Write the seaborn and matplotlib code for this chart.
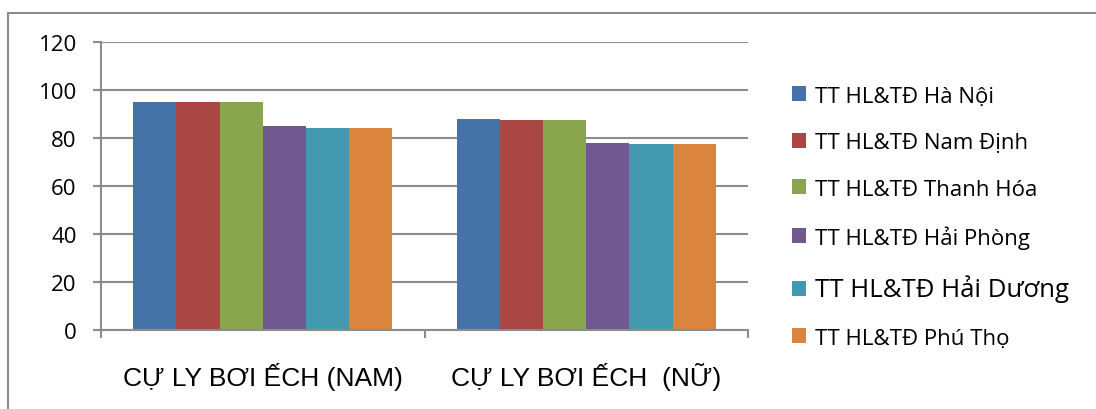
import matplotlib
matplotlib.use("Agg")
import matplotlib.pyplot as plt
import seaborn as sns
import pandas as pd
from matplotlib.patches import Rectangle

categories = ["CỰ LY BƠI ẾCH (NAM)", "CỰ LY BƠI ẾCH  (NỮ)"]
centers = ["TT HL&TĐ Hà Nội", "TT HL&TĐ Nam Định", "TT HL&TĐ Thanh Hóa",
           "TT HL&TĐ Hải Phòng", "TT HL&TĐ Hải Dương", "TT HL&TĐ Phú Thọ"]
nam = [95, 95, 95, 85, 84, 84]
nu = [88, 87.5, 87.5, 78, 77.5, 77.5]
colors = ["#4572A7", "#AA4643", "#89A54E", "#71588F", "#4198AF", "#DB843D"]

rows = []
for c, v in zip(centers, nam):
    rows.append({"cat": categories[0], "center": c, "value": v})
for c, v in zip(centers, nu):
    rows.append({"cat": categories[1], "center": c, "value": v})
df = pd.DataFrame(rows)

sns.set_theme(style="white")
plt.rcParams['font.family'] = ['Open Sans', 'DejaVu Sans']

fig = plt.figure(figsize=(10.96, 4.10), dpi=100)
ax = fig.add_axes([101/1096, 1 - 331/410, (748-101)/1096, (331-43)/410])

sns.barplot(data=df, x="cat", y="value", hue="center", hue_order=centers,
            palette=colors, ax=ax, width=0.8, saturation=1, dodge=True,
            edgecolor="none", linewidth=0, legend=True)

ax.set_ylim(0, 120)
ax.set_xlim(-0.5, 1.5)
ax.set_yticks(range(0, 121, 20))
ax.yaxis.grid(True, color="#8c8c8c", linewidth=1.5)
ax.set_axisbelow(True)
ax.set_xlabel("")
ax.set_ylabel("")
for s in ["top", "right"]:
    ax.spines[s].set_visible(False)
for s in ["left", "bottom"]:
    ax.spines[s].set_color("#8c8c8c")
    ax.spines[s].set_linewidth(1.5)
ax.tick_params(axis="y", left=True, length=6, width=1.5, color="#8c8c8c",
               labelsize=16, pad=11.5, labelcolor="black")
ax.tick_params(axis="x", bottom=False, labelsize=19, pad=17, labelcolor="black")
for lab in ax.get_xticklabels():
    lab.set_fontfamily(['Liberation Sans', 'DejaVu Sans'])
ax.set_xticks([-0.5, 0.5, 1.5], minor=True)
ax.tick_params(axis="x", which="minor", bottom=True, length=6, width=1.5,
               color="#8c8c8c")

leg = ax.legend(loc="center left", bbox_to_anchor=(783/1096, 1 - 218/410),
                bbox_transform=fig.transFigure, frameon=False, fontsize=16,
                handlelength=0.65, handleheight=0.65, handletextpad=0.4,
                labelspacing=1.15, borderaxespad=0)
leg.get_texts()[4].set_fontsize(18.5)
for t in leg.get_texts():
    t.set_color("black")

fig.patches.append(Rectangle((8/1096, -0.05), 1.2, 1 - 14/410 + 0.05,
                             transform=fig.transFigure, fill=False,
                             edgecolor="#8c8c8c", linewidth=1.5))

fig.savefig("out.png", dpi=100)
